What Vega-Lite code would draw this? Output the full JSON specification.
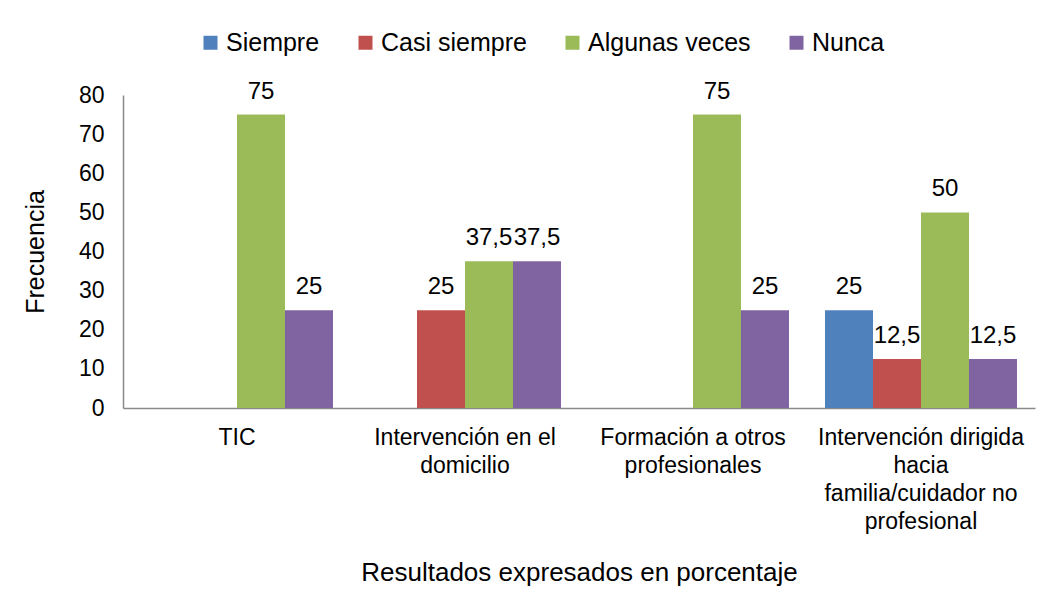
{
  "$schema": "https://vega.github.io/schema/vega-lite/v6.json",
  "width": 912,
  "height": 313,
  "autosize": {"type": "none"},
  "padding": {"left": 123, "top": 95, "right": 24, "bottom": 196},
  "background": "white",
  "config": {
    "locale": {"number": {"decimal": ",", "thousands": ".", "grouping": [3], "currency": ["", " €"]}},
    "font": "Liberation Sans",
    "view": {"stroke": null},
    "axis": {
      "labelFont": "Liberation Sans",
      "titleFont": "Liberation Sans",
      "labelColor": "#000000",
      "titleColor": "#000000",
      "titleFontWeight": "normal",
      "domainColor": "#8a8a8a",
      "domainWidth": 1.5,
      "ticks": false,
      "grid": false
    },
    "legend": {
      "labelFont": "Liberation Sans",
      "labelColor": "#000000",
      "labelFontSize": 25,
      "labelLimit": 0,
      "symbolType": "square",
      "symbolSize": 196,
      "symbolStrokeWidth": 0,
      "labelOffset": 3,
      "columnPadding": 33,
      "padding": 0
    }
  },
  "data": {
    "values": [
      {"categoria": "TIC", "serie": "Siempre", "valor": 0},
      {"categoria": "TIC", "serie": "Casi siempre", "valor": 0},
      {"categoria": "TIC", "serie": "Algunas veces", "valor": 75},
      {"categoria": "TIC", "serie": "Nunca", "valor": 25},
      {"categoria": "Intervención en el domicilio", "serie": "Siempre", "valor": 0},
      {"categoria": "Intervención en el domicilio", "serie": "Casi siempre", "valor": 25},
      {"categoria": "Intervención en el domicilio", "serie": "Algunas veces", "valor": 37.5},
      {"categoria": "Intervención en el domicilio", "serie": "Nunca", "valor": 37.5},
      {"categoria": "Formación a otros profesionales", "serie": "Siempre", "valor": 0},
      {"categoria": "Formación a otros profesionales", "serie": "Casi siempre", "valor": 0},
      {"categoria": "Formación a otros profesionales", "serie": "Algunas veces", "valor": 75},
      {"categoria": "Formación a otros profesionales", "serie": "Nunca", "valor": 25},
      {"categoria": "Intervención dirigida hacia familia/cuidador no profesional", "serie": "Siempre", "valor": 25},
      {"categoria": "Intervención dirigida hacia familia/cuidador no profesional", "serie": "Casi siempre", "valor": 12.5},
      {"categoria": "Intervención dirigida hacia familia/cuidador no profesional", "serie": "Algunas veces", "valor": 50},
      {"categoria": "Intervención dirigida hacia familia/cuidador no profesional", "serie": "Nunca", "valor": 12.5}
    ]
  },
  "encoding": {
    "x": {
      "field": "categoria",
      "type": "nominal",
      "sort": ["TIC", "Intervención en el domicilio", "Formación a otros profesionales", "Intervención dirigida hacia familia/cuidador no profesional"],
      "scale": {"paddingInner": 0.158, "paddingOuter": 0.079},
      "axis": {
        "title": "Resultados expresados en porcentaje",
        "titleFontSize": 26,
        "titlePadding": 26,
        "labelFontSize": 23,
        "labelLineHeight": 28,
        "labelPadding": 18,
        "labelAngle": 0,
        "labelLimit": 0,
        "labelOverlap": false,
        "labelExpr": "datum.value == 'Intervención en el domicilio' ? ['Intervención en el', 'domicilio'] : datum.value == 'Formación a otros profesionales' ? ['Formación a otros', 'profesionales'] : datum.value == 'Intervención dirigida hacia familia/cuidador no profesional' ? ['Intervención dirigida', 'hacia', 'familia/cuidador no', 'profesional'] : datum.value"
      }
    },
    "xOffset": {
      "field": "serie",
      "type": "nominal",
      "sort": ["Siempre", "Casi siempre", "Algunas veces", "Nunca"],
      "scale": {"paddingInner": 0, "paddingOuter": 0}
    },
    "y": {
      "field": "valor",
      "type": "quantitative",
      "scale": {"domain": [0, 80], "nice": false},
      "axis": {
        "title": "Frecuencia",
        "titleFontSize": 25,
        "titlePadding": 30,
        "labelFontSize": 23,
        "labelPadding": 19,
        "values": [0, 10, 20, 30, 40, 50, 60, 70, 80]
      }
    }
  },
  "layer": [
    {
      "mark": {"type": "bar"},
      "encoding": {
        "color": {
          "field": "serie",
          "type": "nominal",
          "sort": ["Siempre", "Casi siempre", "Algunas veces", "Nunca"],
          "scale": {"domain": ["Siempre", "Casi siempre", "Algunas veces", "Nunca"], "range": ["#4F81BD", "#C0504D", "#9BBB59", "#8064A2"]},
          "legend": {"title": null, "orient": "none", "direction": "horizontal", "legendX": 75, "legendY": -65}
        }
      }
    },
    {
      "transform": [{"filter": "datum.valor > 0"}],
      "mark": {"type": "text", "baseline": "alphabetic", "dy": -16, "fontSize": 24, "font": "Liberation Sans", "color": "#000000"},
      "encoding": {
        "text": {"field": "valor", "type": "quantitative", "format": ".1~f"}
      }
    }
  ]
}
